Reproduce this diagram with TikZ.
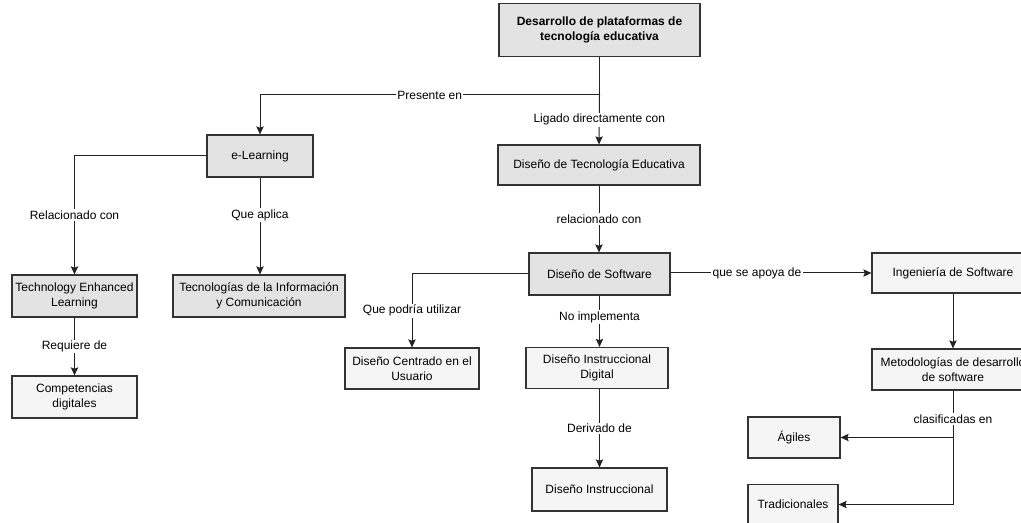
\documentclass[tikz,border=0pt]{standalone}
\usepackage{fontspec}
\setmainfont{Liberation Sans}
\usetikzlibrary{arrows.meta}
\definecolor{darkbox}{HTML}{E3E3E3}
\definecolor{lightbox}{HTML}{F5F5F5}
\definecolor{edgecol}{HTML}{333333}
\definecolor{linecol}{HTML}{222222}
\begin{document}
\begin{tikzpicture}[x=0.75pt,y=-0.75pt,
  box/.style={draw=edgecol,line width=0.9pt,inner sep=0pt,align=center,
    font=\fontsize{9}{11}\selectfont,text=black},
  dbox/.style={box,fill=darkbox},
  lbox/.style={box,fill=lightbox},
  arr/.style={draw=linecol,line width=0.75pt,-{Stealth[length=6pt,width=5.5pt,inset=1pt]}},
  ln/.style={draw=linecol,line width=0.75pt},
  lbl/.style={fill=white,inner sep=1pt,font=\fontsize{9}{11}\selectfont,text=black}]
\useasboundingbox (0,0) rectangle (1021,523);
\fill[white] (0,0) rectangle (1021,523);
% nodes
\node[dbox,minimum width=150.75pt,minimum height=39.75pt,font=\fontsize{9}{11}\selectfont\bfseries] (dev) at (599.5,30) {Desarrollo de plataformas de\\tecnología educativa};
\node[dbox,minimum width=79.5pt,minimum height=31.5pt] (el) at (260,156) {e-Learning};
\node[dbox,minimum width=151.5pt,minimum height=30pt] (dte) at (599,165) {Diseño de Tecnología Educativa};
\node[dbox,minimum width=105.75pt,minimum height=31.5pt] (ds) at (599.5,274) {Diseño de Software};
\node[dbox,minimum width=93.75pt,minimum height=31.5pt] (tel) at (74.5,296) {Technology Enhanced\\Learning};
\node[dbox,minimum width=129pt,minimum height=31.5pt] (tic) at (259,296) {Tecnologías de la Información\\y Comunicación};
\node[lbox,minimum width=93.75pt,minimum height=31.5pt] (comp) at (74.5,397) {Competencias\\digitales};
\node[lbox,minimum width=100.5pt,minimum height=30.75pt] (dcu) at (412,368.5) {Diseño Centrado en el\\Usuario};
\node[lbox,minimum width=106.5pt,minimum height=30.75pt] (did) at (597,368) {Diseño Instruccional\\Digital};
\node[lbox,minimum width=101.25pt,minimum height=32.25pt] (di) at (599.5,489.5) {Diseño Instruccional};
\node[lbox,minimum width=121.5pt,minimum height=30pt] (ing) at (953,273) {Ingeniería de Software};
\node[lbox,minimum width=121.5pt,minimum height=30.75pt] (met) at (953,369.5) {Metodologías de desarrollo\\de software};
\node[lbox,minimum width=69pt,minimum height=30.75pt] (ag) at (794,437.5) {Ágiles};
\node[lbox,minimum width=67.5pt,minimum height=30pt] (tra) at (793,504.5) {Tradicionales};
% connectors
\coordinate (j1) at (599.5,95);
\draw[ln] (dev.south) -- (j1);
\draw[arr] (j1) -| node[lbl,pos=0.25] {Presente en} (el.north);
\draw[arr] (j1) -- node[lbl,pos=0.5] {Ligado directamente con} (dte.north);
\draw[arr] (dte.south) -- node[lbl] {relacionado con} (dte.south |- ds.north);
\draw[arr] (ds.west) -| node[lbl,pos=0.75] {Que podría utilizar} (dcu.north);
\draw[arr] (ds.south) -- node[lbl,pos=0.42] {No implementa} (ds.south |- did.north);
\draw[arr] (did.south -| di.north) -- node[lbl] {Derivado de} (di.north);
\draw[arr] (ds.east |- ing.west) -- node[lbl,pos=0.43] {que se apoya de} (ing.west);
\draw[arr] (ing.south) -- (met.north);
\draw[arr] (met.south) |- (tra.east);
\draw[arr] (met.south |- ag.east) -- (ag.east);
\node[lbl] (cl) at (953,419) {clasificadas en};
\draw[arr] (el.west) -| node[lbl,pos=0.75] {Relacionado con} (tel.north);
\draw[arr] (el.south) -- node[lbl,pos=0.39] {Que aplica} (el.south |- tic.north);
\draw[arr] (tel.south) -- node[lbl] {Requiere de} (comp.north);
\end{tikzpicture}
\end{document}
